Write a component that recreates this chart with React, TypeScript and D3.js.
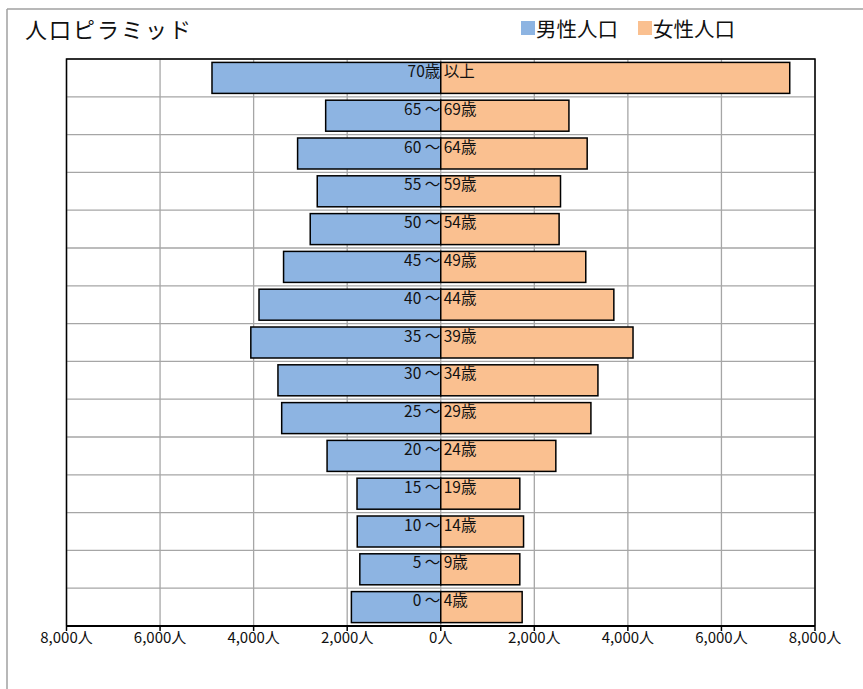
import * as d3 from 'd3';

// age groups, bottom to top
const categories = [
    '0～4歳', '5～9歳', '10～14歳', '15～19歳', '20～24歳', '25～29歳', '30～34歳',
    '35～39歳', '40～44歳', '45～49歳', '50～54歳', '55～59歳', '60～64歳', '65～69歳', '70歳以上'
];
const maleLabels = ['0 ～', '5 ～', '10 ～', '15 ～', '20 ～', '25 ～', '30 ～', '35 ～', '40 ～', '45 ～', '50 ～', '55 ～', '60 ～', '65 ～', '70歳'];
const femaleLabels = ['4歳', '9歳', '14歳', '19歳', '24歳', '29歳', '34歳', '39歳', '44歳', '49歳', '54歳', '59歳', '64歳', '69歳', '以上'];

const male = [1910, 1730, 1785, 1790, 2430, 3400, 3480, 4060, 3885, 3360, 2790, 2640, 3060, 2460, 4890];
const female = [1740, 1690, 1770, 1690, 2460, 3210, 3360, 4110, 3700, 3100, 2530, 2560, 3130, 2740, 7460];

const tickValues = [-8000, -6000, -4000, -2000, 0, 2000, 4000, 6000, 8000];
const seriesNames = ['男性人口', '女性人口'];

const WIDTH = 863;
const HEIGHT = 689;
const MALE_COLOR = '#8DB4E2';
const FEMALE_COLOR = '#FAC090';
const FONT = '"Noto Sans CJK JP", "Noto Sans", sans-serif';

export default function App() {
    const margin = { left: 66.5, right: 48, top: 59, bottom: 63 };

    const x = d3.scaleLinear()
        .domain([-8000, 8000])
        .range([margin.left, WIDTH - margin.right]);

    const y = d3.scaleBand<string>()
        .domain([...categories].reverse())
        .range([margin.top, HEIGHT - margin.bottom])
        .paddingInner(0.18)
        .paddingOuter(0.09);

    const step = y.step();
    const bandTop = (c: string) => (y(c) ?? 0) - step * y.paddingOuter();
    const fmt = d3.format(',');
    const x0 = x(0);

    return (
        <div style={{ position: 'absolute', left: 0, top: 0 }}>
            <svg width={WIDTH} height={HEIGHT} style={{ display: 'block', background: '#fff' }} fontFamily={FONT}>
                {/* outer chart frame */}
                <line x1={7} x2={WIDTH} y1={9} y2={9} stroke="#a0a0a0" strokeWidth={1.5} />
                <line x1={7} x2={7} y1={9} y2={HEIGHT} stroke="#a0a0a0" strokeWidth={1.5} />

                <text x={25} y={28} fontSize={22} letterSpacing={2} dominantBaseline="central" fill="#111">
                    人口ピラミッド
                </text>

                {/* legend */}
                <g>
                    <rect x={521} y={21} width={14} height={14} fill={MALE_COLOR} />
                    <text x={536} y={28} fontSize={20.5} dominantBaseline="central" fill="#111">{seriesNames[0]}</text>
                    <rect x={638} y={21} width={14} height={14} fill={FEMALE_COLOR} />
                    <text x={653} y={28} fontSize={20.5} dominantBaseline="central" fill="#111">{seriesNames[1]}</text>
                </g>

                {/* grid */}
                {categories.map(c => (
                    <line key={'h' + c} x1={x(-8000)} x2={x(8000)} y1={bandTop(c)} y2={bandTop(c)}
                        stroke="#a6a6a6" strokeWidth={1.3} />
                ))}
                {tickValues.map(t => (
                    <line key={'v' + t} x1={x(t)} x2={x(t)} y1={margin.top} y2={HEIGHT - margin.bottom}
                        stroke="#a6a6a6" strokeWidth={1.3} />
                ))}

                {/* bars */}
                {categories.map((c, i) => (
                    <g key={c}>
                        <rect x={x(-male[i])} y={y(c)} width={x0 - x(-male[i])} height={y.bandwidth()}
                            fill={MALE_COLOR} stroke="#000" strokeWidth={1.5} />
                        <rect x={x0} y={y(c)} width={x(female[i]) - x0} height={y.bandwidth()}
                            fill={FEMALE_COLOR} stroke="#000" strokeWidth={1.5} />
                    </g>
                ))}

                {/* bar labels */}
                {categories.map((c, i) => (
                    <g key={'l' + c} fontSize={15.5} fill="#111">
                        <text x={x0 - 0.5} y={(y(c) ?? 0) + 7.5} textAnchor="end" dominantBaseline="central">{maleLabels[i]}</text>
                        <text x={x0 + 3} y={(y(c) ?? 0) + 7.5} dominantBaseline="central">{femaleLabels[i]}</text>
                    </g>
                ))}

                {/* plot frame */}
                <path d={`M${x(-8000)},${HEIGHT - margin.bottom}V${margin.top}H${x(8000)}V${HEIGHT - margin.bottom}`}
                    fill="none" stroke="#000" strokeWidth={1.5} />
                <line x1={x(-8000)} x2={x(8000)} y1={HEIGHT - margin.bottom} y2={HEIGHT - margin.bottom}
                    stroke="#000" strokeWidth={2.2} />

                {/* x axis */}
                {tickValues.map(t => (
                    <g key={'t' + t}>
                        <line x1={x(t)} x2={x(t)} y1={HEIGHT - margin.bottom} y2={HEIGHT - margin.bottom + 5}
                            stroke="#000" strokeWidth={1.5} />
                        <text x={x(t)} y={636} fontSize={15} textAnchor="middle" dominantBaseline="central" fill="#111">
                            {fmt(Math.abs(t))}人
                        </text>
                    </g>
                ))}
            </svg>
        </div>
    );
}
